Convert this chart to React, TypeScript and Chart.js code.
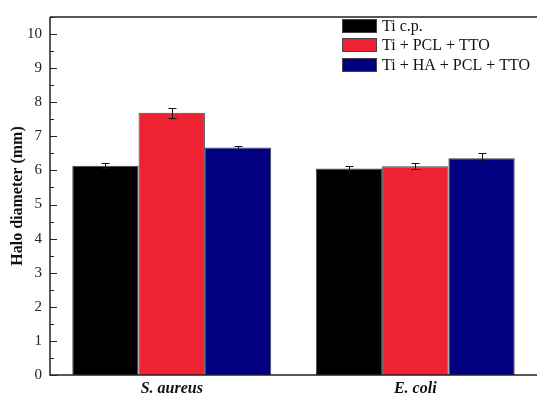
import React, { useEffect, useRef } from "react";
import { Chart, registerables } from "chart.js";

Chart.register(...registerables);

const categories = ["S. aureus", "E. coli"];
const seriesLabels = ["Ti c.p.", "Ti + PCL + TTO", "Ti + HA + PCL + TTO"];
const tiCp = [6.14, 6.06];
const tiPclTto = [7.69, 6.12];
const tiHaPclTto = [6.67, 6.36];
const tiCpErr = [0.07, 0.06];
const tiPclTtoErr = [0.15, 0.09];
const tiHaPclTtoErr = [0.05, 0.15];
const seriesColors = ["#000000", "#EE2233", "#000080"];
const yTickValues = [0, 1, 2, 3, 4, 5, 6, 7, 8, 9, 10];

const SERIF = "'Liberation Serif', 'Times New Roman', serif";

const errorBarPlugin = {
  id: "errorBars",
  afterDatasetsDraw(chart: any) {
    const { ctx } = chart;
    const y = chart.scales.y;
    ctx.save();
    ctx.strokeStyle = "#111";
    ctx.lineWidth = 1;
    chart.data.datasets.forEach((ds: any, di: number) => {
      const meta = chart.getDatasetMeta(di);
      meta.data.forEach((el: any, i: number) => {
        const v = ds.data[i];
        const e = ds.errors[i];
        const yt = Math.round(y.getPixelForValue(v + e)) + 0.5;
        const yb = Math.round(y.getPixelForValue(v - e)) + 0.5;
        const x = Math.round(el.x) + 0.5;
        ctx.beginPath();
        ctx.moveTo(x, yt);
        ctx.lineTo(x, yb);
        ctx.moveTo(x - 4, yt);
        ctx.lineTo(x + 4, yt);
        ctx.moveTo(x - 4, yb);
        ctx.lineTo(x + 4, yb);
        ctx.stroke();
      });
    });
    ctx.restore();
  },
};

const framePlugin = {
  id: "frame",
  afterDraw(chart: any) {
    const { ctx, chartArea } = chart;
    const y = chart.scales.y;
    const { left, right, top, bottom } = chartArea;
    ctx.save();
    ctx.strokeStyle = "#222";
    ctx.lineWidth = 1.5;
    ctx.beginPath();
    ctx.moveTo(left, top);
    ctx.lineTo(right, top);
    ctx.moveTo(left, top);
    ctx.lineTo(left, bottom);
    ctx.lineTo(right, bottom);
    ctx.stroke();
    ctx.lineWidth = 1.2;
    ctx.beginPath();
    for (let v = 0; v <= 10.5; v += 0.5) {
      const py = Math.round(y.getPixelForValue(v)) + 0.5;
      const len = v % 1 === 0 ? 7 : 4;
      ctx.moveTo(left, py);
      ctx.lineTo(left + len, py);
    }
    ctx.stroke();

    // legend
    const sx = 342;
    const sy0 = 19;
    const step = 19.3;
    ctx.font = `16px ${SERIF}`;
    ctx.textBaseline = "middle";
    ctx.textAlign = "left";
    chart.data.datasets.forEach((ds: any, i: number) => {
      const yy = Math.round(sy0 + i * step);
      ctx.fillStyle = ds.backgroundColor;
      ctx.fillRect(sx, yy, 35, 14);
      ctx.strokeStyle = "#444";
      ctx.lineWidth = 1;
      ctx.strokeRect(sx + 0.5, yy + 0.5, 34, 13);
      ctx.fillStyle = "#111";
      ctx.fillText(ds.label, 382, yy + 7.5);
    });
    ctx.restore();
  },
};

export default function App() {
  const ref = useRef<HTMLCanvasElement>(null);
  useEffect(() => {
    document.body.style.margin = "0";
    const values = [tiCp, tiPclTto, tiHaPclTto];
    const errs = [tiCpErr, tiPclTtoErr, tiHaPclTtoErr];
    const chart = new Chart(ref.current as HTMLCanvasElement, {
      type: "bar",
      data: {
        labels: categories,
        datasets: seriesLabels.map((label, i) => ({
          label,
          data: values[i],
          errors: errs[i],
          backgroundColor: seriesColors[i],
          borderColor: "#444",
          borderWidth: 1,
          barPercentage: 1,
          categoryPercentage: 0.817,
        })) as any,
      },
      options: {
        responsive: false,
        animation: false,
        layout: { padding: { left: 0, top: 12, right: 0, bottom: 0 } },
        plugins: {
          legend: { display: false },
          tooltip: { enabled: false },
        },
        scales: {
          x: {
            grid: { display: false, drawTicks: false },
            border: { display: false },
            ticks: {
              color: "#111",
              padding: 4,
              font: { family: SERIF, size: 16, weight: "bold", style: "italic" },
            },
            afterFit(scale: any) {
              scale.height = 18;
            },
          },
          y: {
            min: 0,
            max: 10.5,
            grid: { display: false, drawTicks: false },
            border: { display: false },
            ticks: {
              stepSize: 1,
              color: "#222",
              padding: 8,
              font: { family: SERIF, size: 15 },
            },
            afterBuildTicks(scale: any) {
              scale.ticks = yTickValues.map((v) => ({ value: v }));
            },
            title: {
              display: true,
              text: "Halo diameter (mm)",
              color: "#111",
              font: { family: SERIF, size: 16, weight: "bold" },
              padding: { top: 8, bottom: 0 },
            },
            afterFit(scale: any) {
              scale.width = 50;
            },
          },
        },
      } as any,
      plugins: [errorBarPlugin, framePlugin],
    });
    return () => chart.destroy();
  }, []);
  return <canvas ref={ref} width={537} height={393} style={{ display: "block" }} />;
}
